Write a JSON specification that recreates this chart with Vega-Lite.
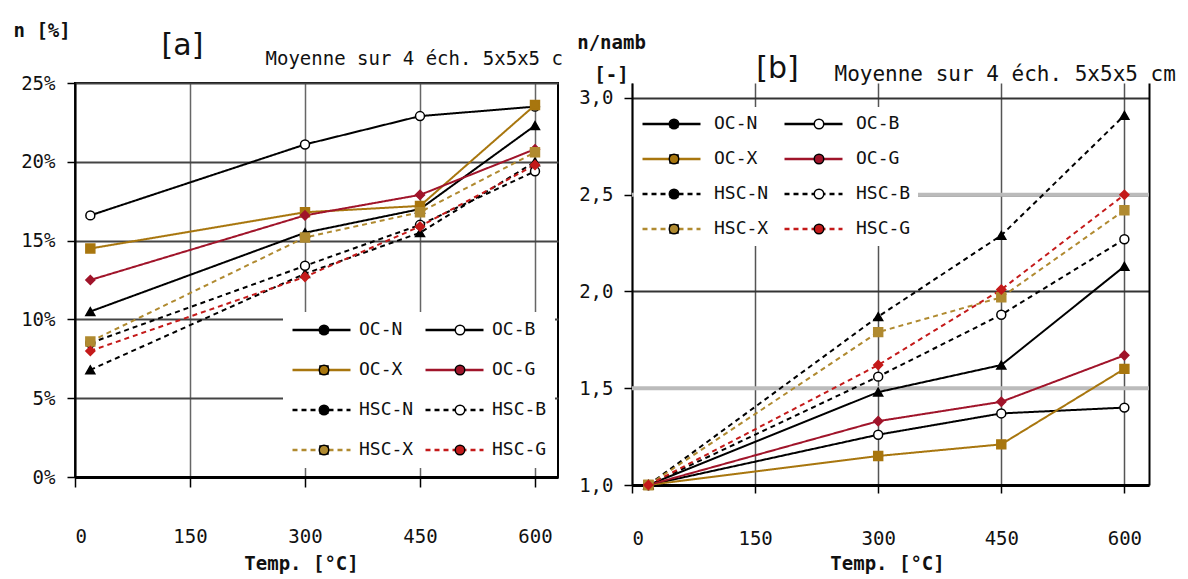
{
  "$schema": "https://vega.github.io/schema/vega-lite/v6.json",
  "padding": {"left": 12, "top": 20, "right": 0, "bottom": 0},
  "background": "white",
  "spacing": 12,
  "resolve": {
    "scale": {"stroke": "independent", "strokeDash": "independent", "shape": "independent", "fill": "independent"},
    "legend": {"stroke": "independent", "fill": "independent", "shape": "independent"}
  },
  "datasets": {
    "a": [
      {"series": "OC-N", "T": 20, "v": 10.5}, {"series": "OC-N", "T": 300, "v": 15.5}, {"series": "OC-N", "T": 450, "v": 17.0}, {"series": "OC-N", "T": 600, "v": 22.3},
      {"series": "OC-B", "T": 20, "v": 16.6}, {"series": "OC-B", "T": 300, "v": 21.1}, {"series": "OC-B", "T": 450, "v": 22.9}, {"series": "OC-B", "T": 600, "v": 23.5},
      {"series": "OC-X", "T": 20, "v": 14.5}, {"series": "OC-X", "T": 300, "v": 16.8}, {"series": "OC-X", "T": 450, "v": 17.2}, {"series": "OC-X", "T": 600, "v": 23.6},
      {"series": "OC-G", "T": 20, "v": 12.5}, {"series": "OC-G", "T": 300, "v": 16.6}, {"series": "OC-G", "T": 450, "v": 17.9}, {"series": "OC-G", "T": 600, "v": 20.8},
      {"series": "HSC-N", "T": 20, "v": 6.8}, {"series": "HSC-N", "T": 300, "v": 12.9}, {"series": "HSC-N", "T": 450, "v": 15.5}, {"series": "HSC-N", "T": 600, "v": 20.0},
      {"series": "HSC-B", "T": 20, "v": 8.5}, {"series": "HSC-B", "T": 300, "v": 13.4}, {"series": "HSC-B", "T": 450, "v": 16.0}, {"series": "HSC-B", "T": 600, "v": 19.4},
      {"series": "HSC-X", "T": 20, "v": 8.6}, {"series": "HSC-X", "T": 300, "v": 15.2}, {"series": "HSC-X", "T": 450, "v": 16.8}, {"series": "HSC-X", "T": 600, "v": 20.6},
      {"series": "HSC-G", "T": 20, "v": 8.0}, {"series": "HSC-G", "T": 300, "v": 12.7}, {"series": "HSC-G", "T": 450, "v": 15.9}, {"series": "HSC-G", "T": 600, "v": 19.8}
    ],
    "b": [
      {"series": "OC-N", "T": 20, "v": 1.0}, {"series": "OC-N", "T": 300, "v": 1.48}, {"series": "OC-N", "T": 450, "v": 1.62}, {"series": "OC-N", "T": 600, "v": 2.13},
      {"series": "OC-B", "T": 20, "v": 1.0}, {"series": "OC-B", "T": 300, "v": 1.26}, {"series": "OC-B", "T": 450, "v": 1.37}, {"series": "OC-B", "T": 600, "v": 1.40},
      {"series": "OC-X", "T": 20, "v": 1.0}, {"series": "OC-X", "T": 300, "v": 1.15}, {"series": "OC-X", "T": 450, "v": 1.21}, {"series": "OC-X", "T": 600, "v": 1.60},
      {"series": "OC-G", "T": 20, "v": 1.0}, {"series": "OC-G", "T": 300, "v": 1.33}, {"series": "OC-G", "T": 450, "v": 1.43}, {"series": "OC-G", "T": 600, "v": 1.67},
      {"series": "HSC-N", "T": 20, "v": 1.0}, {"series": "HSC-N", "T": 300, "v": 1.87}, {"series": "HSC-N", "T": 450, "v": 2.29}, {"series": "HSC-N", "T": 600, "v": 2.91},
      {"series": "HSC-B", "T": 20, "v": 1.0}, {"series": "HSC-B", "T": 300, "v": 1.56}, {"series": "HSC-B", "T": 450, "v": 1.88}, {"series": "HSC-B", "T": 600, "v": 2.27},
      {"series": "HSC-X", "T": 20, "v": 1.0}, {"series": "HSC-X", "T": 300, "v": 1.79}, {"series": "HSC-X", "T": 450, "v": 1.97}, {"series": "HSC-X", "T": 600, "v": 2.42},
      {"series": "HSC-G", "T": 20, "v": 1.0}, {"series": "HSC-G", "T": 300, "v": 1.62}, {"series": "HSC-G", "T": 450, "v": 2.01}, {"series": "HSC-G", "T": 600, "v": 2.50}
    ]
  },
  "hconcat": [
    {
      "width": 483,
      "height": 394,
      "data": {"name": "a"},
      "layer": [
        {
          "mark": {"type": "line", "strokeWidth": 2},
          "encoding": {
            "x": {"field": "T", "type": "quantitative", "scale": {"domain": [0, 630], "nice": false, "zero": false},
              "axis": {"values": [0, 150, 300, 450, 600], "grid": true,
                "gridColor": "#666", "gridWidth": 1.5,
                "domainColor": "#000", "domainWidth": 3, "tickColor": "#000", "tickSize": 10, "tickWidth": 1.5,
                "labelPadding": 40, "labelFont": "DejaVu Sans Mono", "labelFontSize": 19, "labelColor": "#111",
                "title": "Temp. [°C]", "titleFont": "DejaVu Sans Mono", "titleFontSize": 19, "titleFontWeight": "bold", "titleColor": "#111",
                "titleX": 226, "titleY": 86, "titleAlign": "center", "titleBaseline": "middle"}},
            "y": {"field": "v", "type": "quantitative", "scale": {"domain": [0, 25], "nice": false, "zero": false},
              "axis": {"values": [0, 5, 10, 15, 20, 25], "labelExpr": "datum.value + '%'", "grid": true,
                "gridColor": "#444", "gridWidth": 2, "domainColor": "#000", "domainWidth": 2, "tickColor": "#000", "tickSize": 8, "tickWidth": 1.5,
                "labelPadding": 12, "labelFont": "DejaVu Sans Mono", "labelFontSize": 19, "labelColor": "#111",
                "title": "n [%]", "titleAngle": 0, "titleFont": "DejaVu Sans Mono", "titleFontSize": 19, "titleFontWeight": "bold", "titleColor": "#111",
                "titleX": -62, "titleY": -53, "titleAlign": "left", "titleBaseline": "middle"}},
            "stroke": {"field": "series", "type": "nominal",
              "scale": {"domain": ["OC-N", "OC-X", "HSC-N", "HSC-X", "OC-B", "OC-G", "HSC-B", "HSC-G"],
                "range": ["#000000", "#a8760e", "#000000", "#b08a30", "#000000", "#a0142a", "#000000", "#c41a1a"]},
              "legend": {"orient": "none", "legendX": 208, "legendY": 229, "columns": 2, "title": null, "fillColor": "white", "padding": 8,
                "symbolType": "stroke", "symbolSize": 3364, "symbolStrokeWidth": 2.5, "clipHeight": 20, "labelOffset": 7, "columnPadding": 10, "rowPadding": 20,
                "labelFont": "DejaVu Sans Mono", "labelFontSize": 18, "labelColor": "#111"}},
            "strokeDash": {"field": "series", "type": "nominal",
              "scale": {"domain": ["OC-N", "OC-X", "HSC-N", "HSC-X", "OC-B", "OC-G", "HSC-B", "HSC-G"],
                "range": [[1, 0], [1, 0], [5, 4], [5, 4], [1, 0], [1, 0], [5, 4], [5, 4]]}, "legend": null}
          }
        },
        {
          "mark": {"type": "point", "filled": true, "strokeWidth": 1.5, "size": 80, "opacity": 1},
          "encoding": {
            "x": {"field": "T", "type": "quantitative", "scale": {"domain": [0, 630], "nice": false, "zero": false},
              "axis": {"orient": "top", "labels": false, "ticks": false, "domain": false, "grid": false,
                "title": "Moyenne sur 4 éch. 5x5x5 c", "titleFont": "DejaVu Sans Mono", "titleFontSize": 19, "titleFontWeight": "normal", "titleColor": "#111",
                "titleX": 190, "titleY": -25, "titleAlign": "left", "titleBaseline": "middle"}},
            "y": {"field": "v", "type": "quantitative", "scale": {"domain": [0, 25], "nice": false, "zero": false},
              "axis": {"orient": "right", "labels": false, "ticks": false, "domain": false, "grid": false,
                "title": "[a]", "titleAngle": 0, "titleFont": "Liberation Sans Narrow, DejaVu Sans", "titleFontSize": 30, "titleFontWeight": "normal", "titleColor": "#111",
                "titleX": -376, "titleY": -38, "titleAlign": "center", "titleBaseline": "middle"}},
            "shape": {"field": "series", "type": "nominal", "sort": ["OC-N", "OC-X", "HSC-N", "HSC-X", "OC-B", "OC-G", "HSC-B", "HSC-G"],
              "scale": {"range": ["triangle-up", "square", "triangle-up", "square", "circle", "diamond", "circle", "diamond"]},
              "legend": {"orient": "none", "legendX": 208, "legendY": 229, "columns": 2, "title": null, "padding": 8,
                "symbolSize": 90, "symbolStrokeWidth": 1.5, "symbolStrokeColor": "#000000", "symbolOffset": 24, "clipHeight": 20, "labelOffset": 29, "columnPadding": 10, "rowPadding": 20,
                "labelFont": "DejaVu Sans Mono", "labelFontSize": 18, "labelOpacity": 0}},
            "fill": {"field": "series", "type": "nominal", "sort": ["OC-N", "OC-X", "HSC-N", "HSC-X", "OC-B", "OC-G", "HSC-B", "HSC-G"],
              "scale": {"range": ["#000000", "#a8760e", "#000000", "#b08a30", "#ffffff", "#a0142a", "#ffffff", "#c41a1a"]},
              "legend": {"orient": "none", "legendX": 208, "legendY": 229, "columns": 2, "title": null, "padding": 8,
                "symbolSize": 90, "symbolStrokeWidth": 1.5, "symbolStrokeColor": "#000000", "symbolOffset": 24, "clipHeight": 20, "labelOffset": 29, "columnPadding": 10, "rowPadding": 20,
                "labelFont": "DejaVu Sans Mono", "labelFontSize": 18, "labelOpacity": 0}},
            "stroke": {"field": "series", "type": "nominal", "legend": null}
          }
        }
      ],
      "resolve": {"axis": {"x": "independent", "y": "independent"}}
    },
    {
      "width": 517,
      "height": 402,
      "data": {"name": "b"},
      "view": {"stroke": null},
      "layer": [
        {
          "data": {"values": [{"ref": 1.5}, {"ref": 2.5}]},
          "mark": {"type": "rule", "color": "#bbbbbb", "strokeWidth": 4},
          "encoding": {
            "y": {"field": "ref", "type": "quantitative", "scale": {"domain": [1, 3.0775], "nice": false, "zero": false}, "axis": null}
          }
        },
        {
          "mark": {"type": "line", "strokeWidth": 2},
          "encoding": {
            "x": {"field": "T", "type": "quantitative", "scale": {"domain": [0, 630], "nice": false, "zero": false},
              "axis": {"values": [0, 150, 300, 450, 600], "grid": true,
                "gridColor": "#555", "gridWidth": 1.5,
                "domainColor": "#000", "domainWidth": 3, "tickColor": "#000", "tickSize": 8, "tickWidth": 1.5,
                "labelPadding": 36, "labelFont": "DejaVu Sans Mono", "labelFontSize": 19, "labelColor": "#111",
                "title": "Temp. [°C]", "titleFont": "DejaVu Sans Mono", "titleFontSize": 19, "titleFontWeight": "bold", "titleColor": "#111",
                "titleX": 255, "titleY": 78, "titleAlign": "center", "titleBaseline": "middle"}},
            "y": {"field": "v", "type": "quantitative", "scale": {"domain": [1, 3.0775], "nice": false, "zero": false},
              "axis": {"values": [1, 1.5, 2, 2.5, 3], "labelExpr": "replace(format(datum.value, '.1f'), '.', ',')", "grid": true,
                "gridColor": "#333333", "gridWidth": 2,
                "domainColor": "#000", "domainWidth": 2, "tickColor": "#000", "tickSize": 8, "tickWidth": 1.5,
                "labelPadding": 11, "labelFont": "DejaVu Sans Mono", "labelFontSize": 19, "labelColor": "#111",
                "title": ["n/namb", "[-]"], "titleAngle": 0, "titleFont": "DejaVu Sans Mono", "titleFontSize": 19, "titleFontWeight": "bold", "titleColor": "#111",
                "titleLineHeight": 32, "titleX": -21, "titleY": -50, "titleAlign": "center", "titleBaseline": "top"}},
            "stroke": {"field": "series", "type": "nominal",
              "scale": {"domain": ["OC-N", "OC-X", "HSC-N", "HSC-X", "OC-B", "OC-G", "HSC-B", "HSC-G"],
                "range": ["#000000", "#a8760e", "#000000", "#b08a30", "#000000", "#a0142a", "#000000", "#c41a1a"]},
              "legend": {"orient": "none", "legendX": 2, "legendY": 24, "columns": 2, "title": null, "fillColor": "white", "padding": 7,
                "symbolType": "stroke", "symbolSize": 3364, "symbolStrokeWidth": 2.5, "clipHeight": 20, "labelOffset": 12, "columnPadding": 14, "rowPadding": 15,
                "labelFont": "DejaVu Sans Mono", "labelFontSize": 18, "labelColor": "#111"}},
            "strokeDash": {"field": "series", "type": "nominal",
              "scale": {"domain": ["OC-N", "OC-X", "HSC-N", "HSC-X", "OC-B", "OC-G", "HSC-B", "HSC-G"],
                "range": [[1, 0], [1, 0], [5, 4], [5, 4], [1, 0], [1, 0], [5, 4], [5, 4]]}, "legend": null}
          }
        },
        {
          "mark": {"type": "point", "filled": true, "strokeWidth": 1.5, "size": 80, "opacity": 1},
          "encoding": {
            "x": {"field": "T", "type": "quantitative", "scale": {"domain": [0, 630], "nice": false, "zero": false},
              "axis": {"orient": "top", "labels": false, "ticks": false, "domain": false, "grid": false,
                "title": "Moyenne sur 4 éch. 5x5x5 cm", "titleFont": "DejaVu Sans Mono", "titleFontSize": 21, "titleFontWeight": "normal", "titleColor": "#111",
                "titleX": 202, "titleY": -9, "titleAlign": "left", "titleBaseline": "middle"}},
            "y": {"field": "v", "type": "quantitative", "scale": {"domain": [1, 3.0775], "nice": false, "zero": false},
              "axis": {"orient": "right", "labels": false, "ticks": false, "domain": true, "domainColor": "#000", "domainWidth": 2, "grid": false,
                "title": "[b]", "titleAngle": 0, "titleFont": "Liberation Sans Narrow, DejaVu Sans", "titleFontSize": 30, "titleFontWeight": "normal", "titleColor": "#111",
                "titleX": -372, "titleY": -15, "titleAlign": "center", "titleBaseline": "middle"}},
            "shape": {"field": "series", "type": "nominal", "sort": ["OC-N", "OC-X", "HSC-N", "HSC-X", "OC-B", "OC-G", "HSC-B", "HSC-G"],
              "scale": {"range": ["triangle-up", "square", "triangle-up", "square", "circle", "diamond", "circle", "diamond"]},
              "legend": {"orient": "none", "legendX": 2, "legendY": 24, "columns": 2, "title": null, "padding": 7,
                "symbolSize": 90, "symbolStrokeWidth": 1.5, "symbolStrokeColor": "#000000", "symbolOffset": 24, "clipHeight": 20, "labelOffset": 34, "columnPadding": 14, "rowPadding": 15,
                "labelFont": "DejaVu Sans Mono", "labelFontSize": 18, "labelOpacity": 0}},
            "fill": {"field": "series", "type": "nominal", "sort": ["OC-N", "OC-X", "HSC-N", "HSC-X", "OC-B", "OC-G", "HSC-B", "HSC-G"],
              "scale": {"range": ["#000000", "#a8760e", "#000000", "#b08a30", "#ffffff", "#a0142a", "#ffffff", "#c41a1a"]},
              "legend": {"orient": "none", "legendX": 2, "legendY": 24, "columns": 2, "title": null, "padding": 7,
                "symbolSize": 90, "symbolStrokeWidth": 1.5, "symbolStrokeColor": "#000000", "symbolOffset": 24, "clipHeight": 20, "labelOffset": 34, "columnPadding": 14, "rowPadding": 15,
                "labelFont": "DejaVu Sans Mono", "labelFontSize": 18, "labelOpacity": 0}},
            "stroke": {"field": "series", "type": "nominal", "legend": null}
          }
        }
      ],
      "resolve": {"axis": {"x": "independent", "y": "independent"}}
    }
  ],
  "config": {
    "font": "DejaVu Sans Mono",
    "view": {"stroke": "#000", "strokeWidth": 2}
  }
}
